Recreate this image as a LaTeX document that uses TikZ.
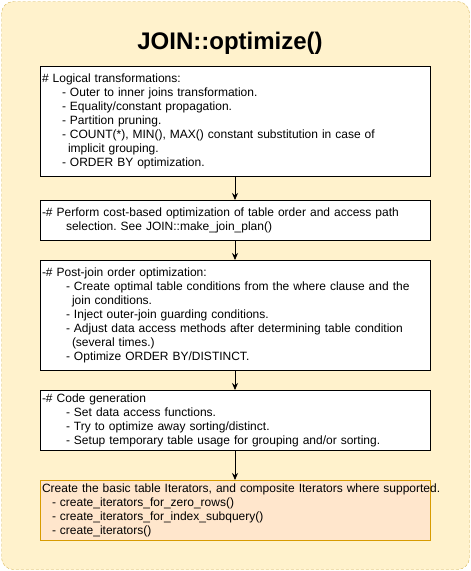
\documentclass[tikz,border=0pt]{standalone}
\usepackage{fontspec}
\setmainfont{Liberation Sans}
\usetikzlibrary{arrows.meta}
\frenchspacing

\definecolor{outerfill}{HTML}{FFF2CC}
\definecolor{outerline}{HTML}{D6B656}
\definecolor{lastfill}{HTML}{FFE6CC}
\definecolor{lastline}{HTML}{D79B00}

\tikzset{
  stagebox/.style={draw, fill=white, anchor=north, minimum width=390pt,
    text width=386pt, align=left, inner sep=2pt,
    font=\fontsize{12}{14}\selectfont},
  flow/.style={-{Stealth[length=7pt,width=6pt]}, thick}
}

\begin{document}
\begin{tikzpicture}[x=1pt,y=-1pt]
    \useasboundingbox (0,0) rectangle (471,571);

    % Outer container
    \draw[outerline, fill=outerfill, dash pattern=on 3pt off 2pt, rounded corners=12pt] (1.5,1.5) rectangle (469.5,569.5);

    % Title
    \node[font=\fontsize{24}{28}\selectfont\bfseries] (title) at (230,43) {JOIN::optimize()};

    % Stages
    \node[stagebox, minimum height=110pt] (logical) at (235,66) {%
        \# Logical transformations:\\
        \hspace*{20pt}- Outer to inner joins transformation.\\
        \hspace*{20pt}- Equality/constant propagation.\\
        \hspace*{20pt}- Partition pruning.\\
        \hspace*{20pt}- COUNT(*), MIN(), MAX() constant substitution in case of\\
        \hspace*{26pt}implicit grouping.\\
        \hspace*{20pt}- ORDER BY optimization.};

    \node[stagebox, minimum height=40pt] (costbased) at (235,200) {%
        -\# Perform cost-based optimization of table order and access path\\
        \hspace*{24pt}selection. See JOIN::make\_join\_plan()};

    \node[stagebox, minimum height=110pt] (postjoin) at (235,260) {%
        -\# Post-join order optimization:\\
        \hspace*{24pt}- Create optimal table conditions from the where clause and the\\
        \hspace*{30pt}join conditions.\\
        \hspace*{24pt}- Inject outer-join guarding conditions.\\
        \hspace*{24pt}- Adjust data access methods after determining table condition\\
        \hspace*{30pt}(several times.)\\
        \hspace*{24pt}- Optimize ORDER BY/DISTINCT.};

    \node[stagebox, minimum height=60pt] (codegen) at (235,390) {%
        -\# Code generation\\
        \hspace*{24pt}- Set data access functions.\\
        \hspace*{24pt}- Try to optimize away sorting/distinct.\\
        \hspace*{24pt}- Setup temporary table usage for grouping and/or sorting.};

    \node[stagebox, draw=lastline, fill=lastfill, minimum height=60pt] (iterators) at (235,480) {%
        \mbox{Create the basic table Iterators, and composite Iterators where supported.}\\
        \hspace*{10pt}- create\_iterators\_for\_zero\_rows()\\
        \hspace*{10pt}- create\_iterators\_for\_index\_subquery()\\
        \hspace*{10pt}- create\_iterators()};

    % Connectors
    \draw[flow] (logical) -- (costbased);
    \draw[flow] (costbased) -- (postjoin);
    \draw[flow] (postjoin) -- (codegen);
    \draw[flow] (codegen) -- (iterators);
\end{tikzpicture}
\end{document}
